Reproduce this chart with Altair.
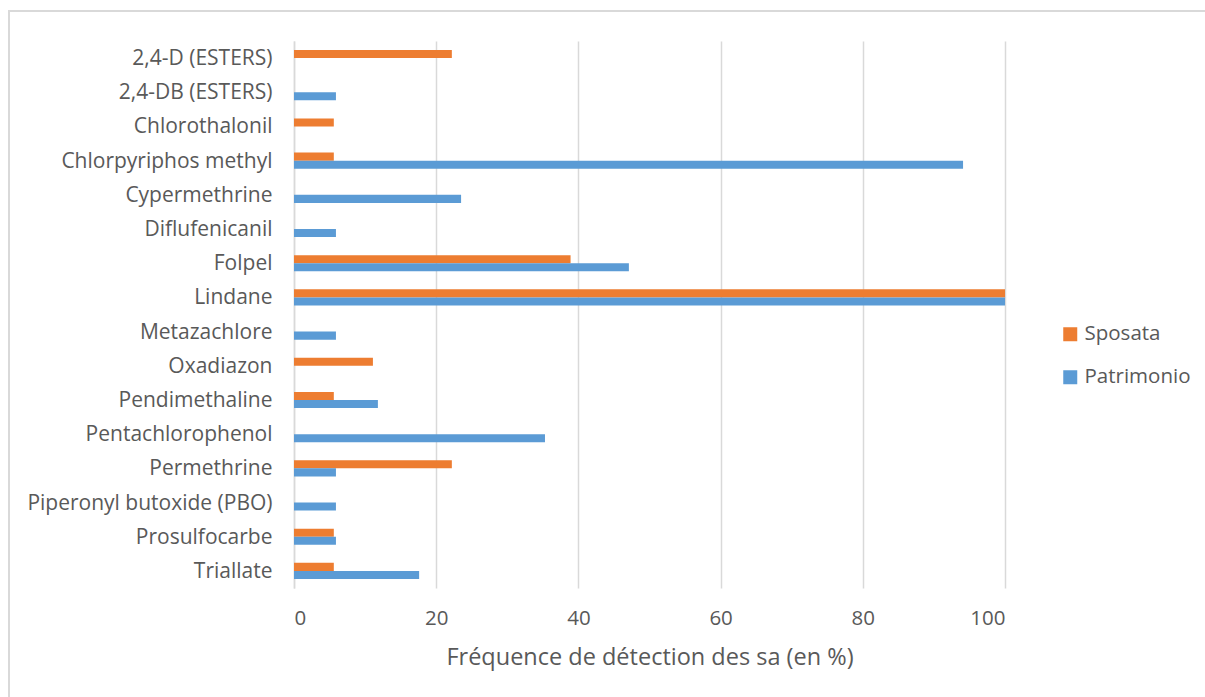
import altair as alt
import pandas as pd

# Active substances, top to bottom
substances = [
    "2,4-D (ESTERS)", "2,4-DB (ESTERS)", "Chlorothalonil", "Chlorpyriphos methyl",
    "Cypermethrine", "Diflufenicanil", "Folpel", "Lindane", "Metazachlore",
    "Oxadiazon", "Pendimethaline", "Pentachlorophenol", "Permethrine",
    "Piperonyl butoxide (PBO)", "Prosulfocarbe", "Triallate",
]
# Detection frequency (%) per site
sposata = [22.2, 0, 5.6, 5.6, 0, 0, 38.9, 100, 0, 11.1, 5.6, 0, 22.2, 0, 5.6, 5.6]
patrimonio = [0, 5.9, 0, 94.1, 23.5, 5.9, 47.1, 100, 5.9, 0, 11.8, 35.3, 5.9, 5.9, 5.9, 17.6]
series = ["Sposata", "Patrimonio"]
colors = ["#ED7D31", "#5B9BD5"]
x_ticks = [0, 20, 40, 60, 80, 100]

rows = []
for name, s, p in zip(substances, sposata, patrimonio):
    if s:
        rows.append({"substance": name, "site": "Sposata", "freq": s})
    if p:
        rows.append({"substance": name, "site": "Patrimonio", "freq": p})
df = pd.DataFrame(rows)

FONT = "Open Sans"
TXT = "#595959"
GRID = "#d9d9d9"

bars = alt.Chart(df).mark_bar().encode(
    x=alt.X("freq:Q",
            scale=alt.Scale(domain=[0, 100], nice=False),
            axis=alt.Axis(values=x_ticks, title="Fréquence de détection des sa (en %)",
                          domain=False, ticks=False, grid=True, gridColor=GRID,
                          gridWidth=1.5, labelFontSize=20.5, labelColor=TXT,
                          labelPadding=20, titleFontSize=23.5, titleColor=TXT,
                          titleFontWeight="normal", titlePadding=17, labelFont=FONT,
                          titleFont=FONT)),
    y=alt.Y("substance:N", sort=substances,
            scale=alt.Scale(paddingInner=0.53, paddingOuter=0.265),
            axis=alt.Axis(title=None, ticks=False, domain=True, domainColor=GRID,
                          domainWidth=1.5, labelFontSize=21, labelColor=TXT,
                          labelPadding=22, labelFont=FONT, labelLimit=400,
                          labelOffset=1)),
    yOffset=alt.YOffset("site:N", sort=series,
                        scale=alt.Scale(paddingInner=0, paddingOuter=0)),
    color=alt.Color("site:N", sort=series,
                    scale=alt.Scale(domain=series, range=colors),
                    legend=alt.Legend(title=None, orient="none", legendX=766, legendY=283,
                                      symbolType="square", symbolSize=196,
                                      symbolStrokeWidth=0, labelFontSize=20.5,
                                      labelColor=TXT, labelFont=FONT, rowPadding=22,
                                      labelOffset=4)),
)

# Light outer frame of the chart
frame = alt.Chart(pd.DataFrame({"a": [0]})).mark_rect(
    fill=None, stroke=GRID, strokeWidth=2, clip=False
).encode(
    x=alt.value(-285), x2=alt.value(930),
    y=alt.value(-30), y2=alt.value(680),
)

chart = alt.layer(frame, bars).properties(
    width=711, height=547,
    autosize=alt.AutoSizeParams(type="none"),
    padding={"left": 294, "top": 41, "right": 200, "bottom": 109},
    background="white",
).configure_view(stroke=None)

chart.save("out.html", embed_options={"renderer": "svg", "actions": False})
